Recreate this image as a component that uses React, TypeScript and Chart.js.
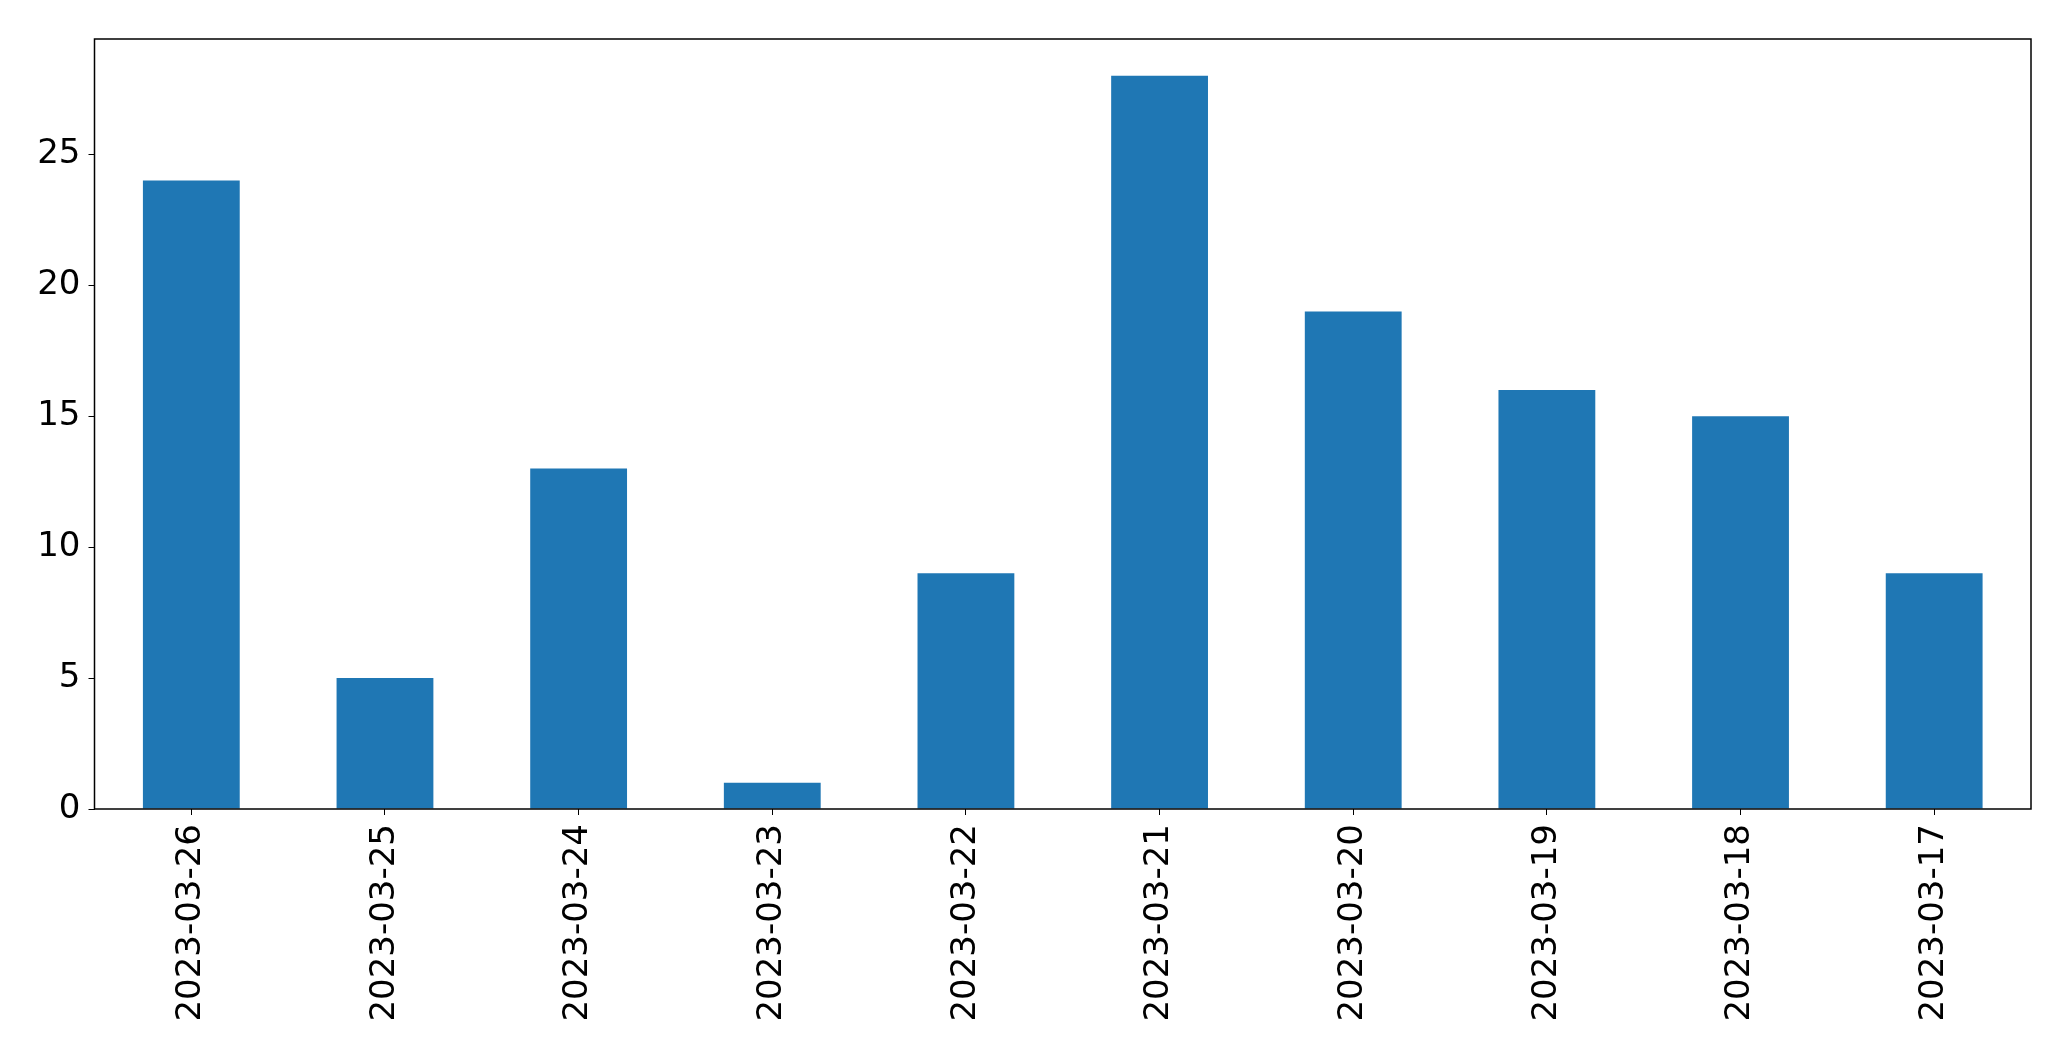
import React, { useEffect, useRef } from "react";
import { Chart, registerables } from "chart.js";

Chart.register(...registerables);

const categories = [
  "2023-03-26",
  "2023-03-25",
  "2023-03-24",
  "2023-03-23",
  "2023-03-22",
  "2023-03-21",
  "2023-03-20",
  "2023-03-19",
  "2023-03-18",
  "2023-03-17",
];
const values = [24, 5, 13, 1, 9, 28, 19, 16, 15, 9];
const yTicks = [0, 5, 10, 15, 20, 25];
const barColor = "#1f77b4";

const W = 2071;
const H = 1061;

const framePlugin = {
  id: "frame",
  afterDraw(chart: any) {
    const { ctx, chartArea } = chart;
    ctx.save();
    ctx.strokeStyle = "#000";
    ctx.lineWidth = 1.5;
    ctx.strokeRect(chartArea.left, chartArea.top, chartArea.right - chartArea.left, chartArea.bottom - chartArea.top);
    ctx.restore();
  },
};

export default function App() {
  const ref = useRef<HTMLCanvasElement>(null);
  useEffect(() => {
    const chart = new Chart(ref.current!, {
      type: "bar",
      data: {
        labels: categories,
        datasets: [
          {
            data: values,
            backgroundColor: barColor,
            borderWidth: 0,
            categoryPercentage: 0.5,
            barPercentage: 1,
          },
        ],
      },
      options: {
        animation: false,
        responsive: false,
        maintainAspectRatio: false,
        layout: { padding: { top: 39, right: 40, left: 0, bottom: 0 } },
        plugins: { legend: { display: false }, tooltip: { enabled: false } },
        scales: {
          x: {
            offset: true,
            grid: { display: true, offset: false, drawOnChartArea: false, tickLength: 6, color: "#000", lineWidth: 1 },
            border: { display: false },
            ticks: {
              color: "#000",
              font: { family: "DejaVu Sans", size: 34 },
              minRotation: 90,
              maxRotation: 90,
              padding: 9,
            },
            afterFit(scale: any) {
              scale.height = H - 809;
            },
          },
          y: {
            min: 0,
            max: 29.4,
            grid: { display: true, drawOnChartArea: false, tickLength: 6, color: "#000", lineWidth: 1 },
            border: { display: false },
            afterBuildTicks(scale: any) {
              scale.ticks = yTicks.map((v) => ({ value: v }));
            },
            ticks: {
              color: "#000",
              font: { family: "DejaVu Sans", size: 34 },
              padding: 8,
            },
            afterFit(scale: any) {
              scale.width = 94.5;
            },
          },
        },
      },
      plugins: [framePlugin],
    });
    return () => chart.destroy();
  }, []);
  return (
    <div style={{ position: "fixed", left: 0, top: 0, width: W, height: H, background: "#fff" }}>
      <canvas ref={ref} width={W} height={H} style={{ width: W, height: H, display: "block" }} />
    </div>
  );
}
